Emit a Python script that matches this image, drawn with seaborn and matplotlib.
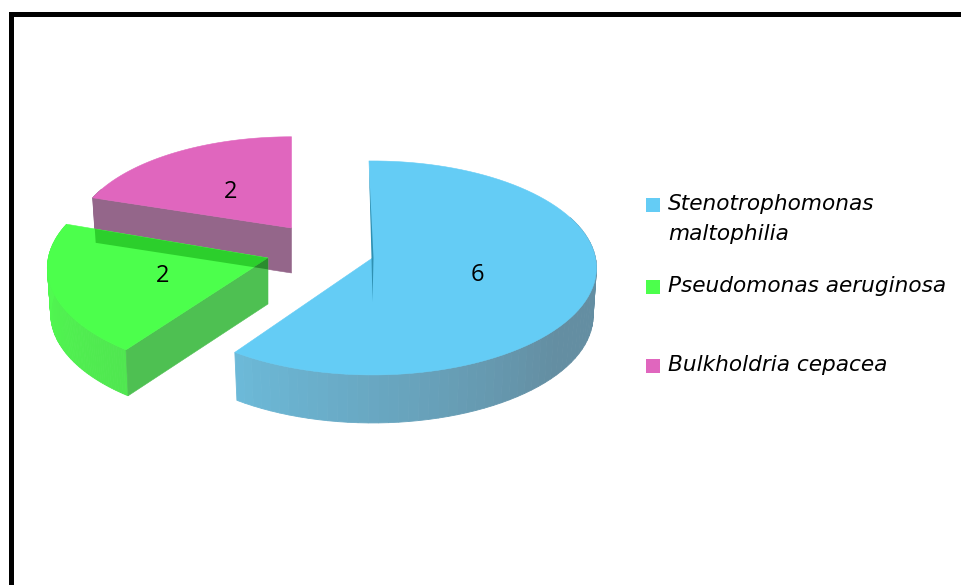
import numpy as np
import pandas as pd
import matplotlib
matplotlib.use("Agg")
import matplotlib.pyplot as plt
from matplotlib.colors import to_rgb
from matplotlib.patches import Polygon
import seaborn as sns

# Chart values
categories = ["Stenotrophomonas\nmaltophilia", "Pseudomonas aeruginosa", "Bulkholdria cepacea"]
counts = [6, 2, 2]

# Colours
top_colors = ["#64CCF5", "#4CFF4C", "#E066BE"]
side_near = ["#6CBAD9", "#50E650", "#94668A"]
side_far = ["#648EA2", "#50FA50", "#94668A"]
face_colors = [None, "#4EC052", "#94668A"]
band_color = "#2CCF2C"
tip_color = "#2A8C2E"

# Layout in pixels of the picture
apex_x = [372.5, 268, 291.5]
apex_y = [258, 258, 228]
depth = [48, 46, 45]
scale_x = [1.0, 0.985, 0.965]
scale_y = [1.0, 1.0, 0.94]
lean = [-1.0, 1.0, 0]
rx, ry, persp = 223, 107, 0.093
shrink = 0.985
legend_y = [205, 287, 366]
label_pos = [(477, 275), (163, 276), (231, 192)]

df = pd.DataFrame({"category": categories, "count": counts})
df["sweep"] = df["count"] / df["count"].sum() * 360
df["start"] = df["sweep"].cumsum().shift(fill_value=0)

sns.set_theme(style="white")
plt.rcParams["font.family"] = ["Open Sans", "DejaVu Sans"]


def project(t_deg, i):
    # clockwise from 12 o'clock, the near side is drawn a bit larger
    t = np.radians(t_deg)
    s = 1 - persp * np.cos(t)
    return (apex_x[i] + rx * np.sin(t) * s * scale_x[i],
            apex_y[i] - ry * np.cos(t) * s * scale_y[i])


def lower(x, y, i):
    # same outline dropped by the slice depth, slightly narrower
    return apex_x[i] + (x - apex_x[i]) * shrink, y + depth[i]


def mix(c1, c2, f):
    a, b = np.array(to_rgb(c1)), np.array(to_rgb(c2))
    return tuple(a + (b - a) * f)


fig = plt.figure(figsize=(9.61, 5.85), dpi=100, facecolor="white")
ax = fig.add_axes([0, 0, 1, 1])

# Outer frame, only left and top are in the picture
ax.plot([10.5, 10.5, 961], [585, 13.5, 13.5], color="black", lw=3.6,
        solid_joinstyle="miter", solid_capstyle="butt")

patches = {}
for i in [2, 1, 0]:
    row = df.iloc[i]
    t0 = row["start"] + lean[i]
    t1 = t0 + row["sweep"]
    ts = np.linspace(t0, t1, 90)
    xs, ys = project(ts, i)
    lx, ly = lower(xs, ys, i)
    ax0, ay0 = lower(apex_x[i], apex_y[i], i)

    # Rim, shaded piece by piece, back part is hidden anyway
    for k in range(len(ts) - 1):
        mid = (ts[k] + ts[k + 1]) / 2
        if np.cos(np.radians(mid)) > 0.4:
            continue
        f = np.clip((216 - mid) / 86, 0, 1) if i == 0 else np.clip((mid - 216) / 54, 0, 1)
        col = mix(side_near[i], side_far[i], f)
        quad = [(xs[k], ys[k]), (xs[k + 1], ys[k + 1]), (lx[k + 1], ly[k + 1]), (lx[k], ly[k])]
        ax.add_patch(Polygon(quad, closed=True, facecolor=col, edgecolor=col, lw=0.6))

    # Cut face
    if face_colors[i] is not None:
        face = [(xs[0], ys[0]), (apex_x[i], apex_y[i]), (ax0, ay0), (lx[0], ly[0])]
        patches[f"face{i}"] = face
        ax.add_patch(Polygon(face, closed=True, facecolor=face_colors[i],
                             edgecolor=face_colors[i], lw=0.4))

    top = list(zip(xs, ys)) + [(apex_x[i], apex_y[i])]
    top_patch = Polygon(top, closed=True, facecolor=top_colors[i], edgecolor=top_colors[i], lw=0.4)
    ax.add_patch(top_patch)
    patches[f"top{i}"] = top_patch

    if i == 0:
        # thin seam seen through the blue slice
        ax.add_patch(Polygon([(xs[0], ys[0] + 6), (apex_x[0] - 1, apex_y[0]),
                              (apex_x[0], apex_y[0] + depth[0] - 4), (apex_x[0] + 1, apex_y[0])],
                             closed=True, facecolor="#2F90B2", edgecolor="none"))

# Where the magenta face shows through the green slice
band = Polygon(patches["face2"], closed=True, facecolor=band_color, edgecolor="none")
ax.add_patch(band)
band.set_clip_path(patches["top1"])

green_face = Polygon(patches["face1"], closed=True, facecolor="none", edgecolor="none")
ax.add_patch(green_face)
tip = Polygon(patches["face2"], closed=True, facecolor=tip_color, edgecolor="none")
ax.add_patch(tip)
tip.set_clip_path(green_face)

# Slice numbers
for (tx, ty), n in zip(label_pos, counts):
    ax.text(tx, ty, str(n), fontsize=17, ha="center", va="center", color="black")

# Legend
legend_df = pd.DataFrame({"x": [653, 653, 653], "y": legend_y, "category": categories})
sns.scatterplot(data=legend_df, x="x", y="y", hue="category", palette=top_colors, marker="s",
                s=101, linewidth=0, legend=False, ax=ax)

for ly, name in zip(legend_y, categories):
    ax.text(668, ly - 11, name, fontsize=15.6, family="DejaVu Sans", style="italic",
            va="top", ha="left", color="black", linespacing=1.62)

ax.set_xlim(0, 961)
ax.set_ylim(585, 0)
ax.axis("off")

fig.savefig("out.png", dpi=100)
